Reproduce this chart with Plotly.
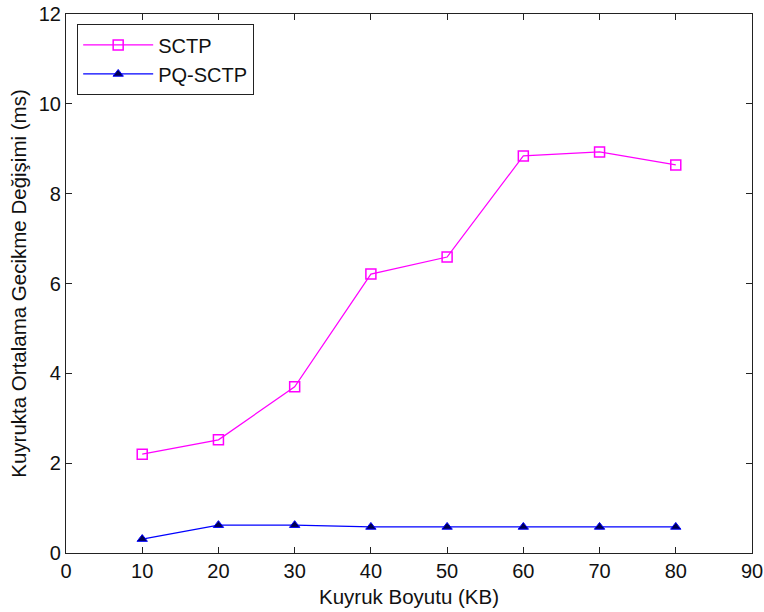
import plotly.graph_objects as go

x_vals = [10, 20, 30, 40, 50, 60, 70, 80]
sctp = [2.20, 2.52, 3.70, 6.21, 6.59, 8.84, 8.93, 8.64]
pq_sctp = [0.31, 0.62, 0.62, 0.58, 0.58, 0.58, 0.58, 0.58]
x_ticks = [0, 10, 20, 30, 40, 50, 60, 70, 80, 90]
y_ticks = [0, 2, 4, 6, 8, 10, 12]

FONT = "Liberation Sans, Arial"

fig = go.Figure()
fig.add_trace(go.Scatter(
    x=x_vals, y=sctp, name="SCTP", mode="lines+markers",
    line=dict(color="#ff00ff", width=1.2),
    marker=dict(symbol="square-open", size=10, color="#ff00ff", line=dict(width=1.5, color="#ff00ff")),
))
fig.add_trace(go.Scatter(
    x=x_vals, y=pq_sctp, name="PQ-SCTP", mode="lines+markers",
    line=dict(color="#0000ff", width=1.2),
    marker=dict(symbol="triangle-up", size=9, color="#000050", line=dict(width=1, color="#0000ff")),
))

axis_common = dict(
    showline=True, linecolor="#222", linewidth=1.2, mirror="ticks",
    ticks="inside", ticklen=6, tickcolor="#222", tickwidth=1.2,
    showgrid=False, zeroline=False,
    tickfont=dict(family=FONT, size=20, color="#111"),
)
fig.update_xaxes(range=[0, 90], tickvals=x_ticks,
                 title=dict(text="Kuyruk Boyutu (KB)", font=dict(family=FONT, size=20.5, color="#111"), standoff=8),
                 **axis_common)
fig.update_yaxes(range=[0, 12], tickvals=y_ticks,
                 title=dict(text="Kuyrukta Ortalama Gecikme Değişimi (ms)", font=dict(family=FONT, size=20.5, color="#111"), standoff=6),
                 **axis_common)

fig.update_layout(
    width=764, height=612,
    margin=dict(l=66, r=12, t=14, b=59, autoexpand=False),
    plot_bgcolor="white", paper_bgcolor="white",
    legend=dict(x=0.016, y=0.981, xanchor="left", yanchor="top",
                bordercolor="#222", borderwidth=1.2, bgcolor="white",
                font=dict(family=FONT, size=20, color="#111"),
                itemwidth=70, tracegroupgap=0),
)
fig.write_html("out.html")
